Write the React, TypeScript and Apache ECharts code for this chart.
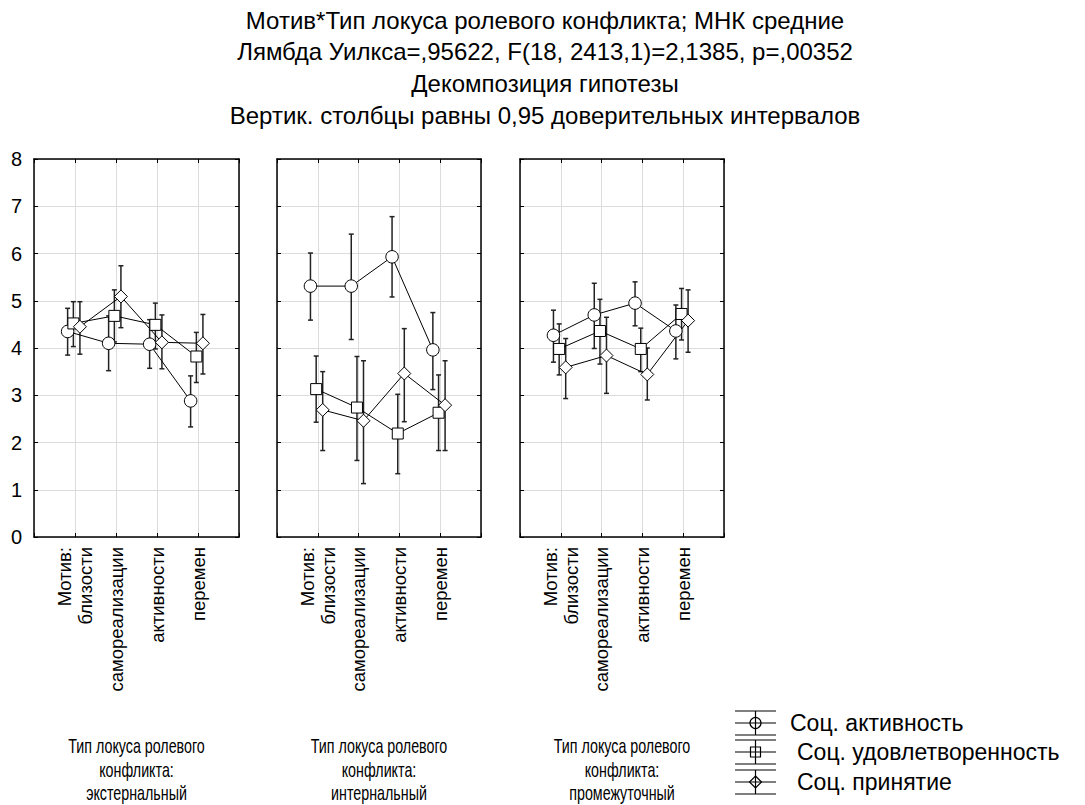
import React, { useEffect, useRef } from "react";
import * as echarts from "echarts";

const titleLines = [
  "Мотив*Тип локуса ролевого конфликта; МНК средние",
  "Лямбда Уилкса=,95622, F(18, 2413,1)=2,1385, p=,00352",
  "Декомпозиция гипотезы",
  "Вертик. столбцы равны 0,95 доверительных интервалов",
];
const categories = ["Мотив:\nблизости", "самореализации", "активности", "перемен"];
const panelNames = [
  ["Тип локуса ролевого", "конфликта:", "экстернальный"],
  ["Тип локуса ролевого", "конфликта:", "интернальный"],
  ["Тип локуса ролевого", "конфликта:", "промежуточный"],
];
const seriesNames = ["Соц. активность", "Соц. удовлетворенность", "Соц. принятие"];
const yTicks = [0, 1, 2, 3, 4, 5, 6, 7, 8];

// means [panel][series][category]
const extActivity = [4.35, 4.1, 4.08, 2.88];
const extSatisfaction = [4.52, 4.68, 4.49, 3.82];
const extAcceptance = [4.45, 5.09, 4.12, 4.1];
const intActivity = [5.31, 5.31, 5.93, 3.96];
const intSatisfaction = [3.13, 2.74, 2.19, 2.63];
const intAcceptance = [2.69, 2.46, 3.46, 2.79];
const midActivity = [4.27, 4.7, 4.95, 4.36];
const midSatisfaction = [3.98, 4.36, 3.98, 4.72];
const midAcceptance = [3.59, 3.84, 3.44, 4.58];

// confidence interval lower / upper
const extActivityLo = [3.85, 3.52, 3.57, 2.33];
const extActivityHi = [4.84, 4.68, 4.6, 3.41];
const extSatisfactionLo = [4.03, 4.13, 3.98, 3.27];
const extSatisfactionHi = [4.98, 5.23, 4.95, 4.33];
const extAcceptanceLo = [3.87, 4.43, 3.56, 3.45];
const extAcceptanceHi = [4.98, 5.74, 4.7, 4.71];
const intActivityLo = [4.59, 4.18, 5.08, 3.12];
const intActivityHi = [6.01, 6.41, 6.78, 4.75];
const intSatisfactionLo = [2.43, 1.62, 1.34, 1.83];
const intSatisfactionHi = [3.83, 3.82, 3.02, 3.43];
const intAcceptanceLo = [1.83, 1.13, 2.44, 1.83];
const intAcceptanceHi = [3.5, 3.73, 4.41, 3.73];
const midActivityLo = [3.7, 3.99, 4.47, 3.77];
const midActivityHi = [4.8, 5.37, 5.4, 4.91];
const midSatisfactionLo = [3.43, 3.66, 3.5, 4.17];
const midSatisfactionHi = [4.51, 5.03, 4.42, 5.26];
const midAcceptanceLo = [2.93, 3.04, 2.9, 3.91];
const midAcceptanceHi = [4.2, 4.65, 4.0, 5.23];

const means = [
  [extActivity, extSatisfaction, extAcceptance],
  [intActivity, intSatisfaction, intAcceptance],
  [midActivity, midSatisfaction, midAcceptance],
];
const lows = [
  [extActivityLo, extSatisfactionLo, extAcceptanceLo],
  [intActivityLo, intSatisfactionLo, intAcceptanceLo],
  [midActivityLo, midSatisfactionLo, midAcceptanceLo],
];
const highs = [
  [extActivityHi, extSatisfactionHi, extAcceptanceHi],
  [intActivityHi, intSatisfactionHi, intAcceptanceHi],
  [midActivityHi, midSatisfactionHi, midAcceptanceHi],
];

const xOffsets = [-0.18, -0.04, 0.12];
const symbols = ["circle", "rect", "diamond"];
const symbolSizes = [12.5, 11, 13];

const FONT = "'Liberation Sans', Arial, sans-serif";

const gridLefts = [34, 277, 520];
const gridWidths = [205, 204, 204];
const gridTop = 159;
const gridHeight = 378;

export default function App() {
  const ref = useRef<HTMLDivElement>(null);
  useEffect(() => {
    if (!ref.current) return;
    const chart = echarts.init(ref.current, null, { renderer: "svg" });

    const grids: any[] = [];
    const xAxes: any[] = [];
    const yAxes: any[] = [];
    const series: any[] = [];
    const graphics: any[] = [];

    for (let p = 0; p < 3; p++) {
      grids.push({ left: gridLefts[p], top: gridTop, width: gridWidths[p], height: gridHeight });
      xAxes.push({
        type: "value",
        gridIndex: p,
        position: "bottom",
        min: 0,
        max: 5,
        interval: 1,
        axisLine: { show: true, onZero: false, lineStyle: { color: "#000", width: 1.5 } },
        axisTick: { show: true, inside: true, length: 4, lineStyle: { color: "#000" } },
        splitLine: { show: true, lineStyle: { color: "#dcdcdc", width: 1 } },
        axisLabel: {
          show: true,
          rotate: 90,
          margin: 10,
          fontSize: 18.5,
          fontFamily: FONT,
          color: "#000",
          lineHeight: 21,
          formatter: (v: number) => (v >= 1 && v <= 4 ? categories[v - 1] : ""),
        },
      });
      xAxes.push({
        type: "value",
        gridIndex: p,
        position: "top",
        min: 0,
        max: 5,
        interval: 1,
        axisLine: { show: true, onZero: false, lineStyle: { color: "#000", width: 1.5 } },
        axisTick: { show: true, inside: true, length: 4, lineStyle: { color: "#000" } },
        splitLine: { show: false },
        axisLabel: { show: false },
      });
      yAxes.push({
        type: "value",
        gridIndex: p,
        position: "left",
        min: 0,
        max: 8,
        interval: 1,
        axisLine: { show: true, onZero: false, lineStyle: { color: "#000", width: 1.5 } },
        axisTick: { show: true, inside: true, length: 4, lineStyle: { color: "#000" } },
        splitLine: { show: true, lineStyle: { color: "#dcdcdc", width: 1 } },
        axisLabel: {
          show: p === 0,
          fontSize: 20,
          fontFamily: FONT,
          color: "#000",
          margin: 12,
          formatter: (v: number) => (yTicks.includes(v) ? String(v) : ""),
        },
      });
      yAxes.push({
        type: "value",
        gridIndex: p,
        position: "right",
        min: 0,
        max: 8,
        interval: 1,
        axisLine: { show: true, onZero: false, lineStyle: { color: "#000", width: 1.5 } },
        axisTick: { show: true, inside: true, length: 4, lineStyle: { color: "#000" } },
        splitLine: { show: false },
        axisLabel: { show: false },
      });

      for (let s = 0; s < 3; s++) {
        const errData = categories.map((_, c) => [c + 1 + xOffsets[s], lows[p][s][c], highs[p][s][c]]);
        series.push({
          type: "custom",
          name: seriesNames[s] + " CI " + p,
          xAxisIndex: p * 2,
          yAxisIndex: p * 2,
          z: 2,
          encode: { x: 0, y: [1, 2] },
          data: errData,
          renderItem: (params: any, api: any) => {
            const x = api.value(0);
            const lo = api.coord([x, api.value(1)]);
            const hi = api.coord([x, api.value(2)]);
            const cap = 2.5;
            const style = { stroke: "#222", lineWidth: 1.5 };
            return {
              type: "group",
              children: [
                { type: "line", shape: { x1: lo[0], y1: lo[1], x2: hi[0], y2: hi[1] }, style },
                { type: "line", shape: { x1: lo[0] - cap, y1: lo[1], x2: lo[0] + cap, y2: lo[1] }, style },
                { type: "line", shape: { x1: hi[0] - cap, y1: hi[1], x2: hi[0] + cap, y2: hi[1] }, style },
              ],
            };
          },
        });
        series.push({
          type: "line",
          name: seriesNames[s],
          xAxisIndex: p * 2,
          yAxisIndex: p * 2,
          z: 3,
          data: categories.map((_, c) => [c + 1 + xOffsets[s], means[p][s][c]]),
          symbol: symbols[s],
          symbolSize: symbolSizes[s],
          showSymbol: true,
          lineStyle: { color: "#000", width: 1 },
          itemStyle: { color: "#fff", borderColor: "#000", borderWidth: 1 },
          emphasis: { disabled: true },
        });
      }

      panelNames[p].forEach((line, li) => {
        graphics.push({
          type: "text",
          x: gridLefts[p] + gridWidths[p] / 2,
          y: 746 + li * 23.5,
          scaleX: 0.68,
          style: {
            text: line,
            fontSize: 21,
            lineHeight: 21,
            fontFamily: FONT,
            fill: "#000",
            align: "center",
            verticalAlign: "middle",
          },
        });
      });
    }

    // title
    titleLines.forEach((t, i) => {
      graphics.push({
        type: "text",
        x: 545,
        y: 20 + i * 31.7,
        style: {
          text: t,
          fontSize: 24,
          fontFamily: FONT,
          fill: "#000",
          align: "center",
          verticalAlign: "middle",
        },
      });
    });

    // legend
    const legendY = [723, 752, 782];
    const legendTextX = [790, 797, 797];
    const lx0 = 735;
    const lx1 = 776;
    const lxc = 755.5;
    seriesNames.forEach((name, i) => {
      const cy = legendY[i];
      const st = { stroke: "#000", lineWidth: 1.2 };
      graphics.push({ type: "line", shape: { x1: lx0, y1: cy - 12, x2: lx1, y2: cy - 12 }, style: st });
      graphics.push({ type: "line", shape: { x1: lx0, y1: cy + 12, x2: lx1, y2: cy + 12 }, style: st });
      graphics.push({ type: "line", shape: { x1: lxc, y1: cy - 12, x2: lxc, y2: cy + 12 }, style: st });
      graphics.push({ type: "line", shape: { x1: lx0, y1: cy, x2: lx1, y2: cy }, style: st });
      if (i === 0) {
        graphics.push({ type: "circle", shape: { cx: lxc, cy, r: 5.5 }, style: { fill: "none", stroke: "#000", lineWidth: 1.2 } });
      } else if (i === 1) {
        graphics.push({ type: "rect", shape: { x: lxc - 5, y: cy - 5, width: 10, height: 10 }, style: { fill: "none", stroke: "#000", lineWidth: 1.2 } });
      } else {
        graphics.push({
          type: "polygon",
          shape: { points: [[lxc, cy - 6], [lxc + 6, cy], [lxc, cy + 6], [lxc - 6, cy]] },
          style: { fill: "none", stroke: "#000", lineWidth: 1.2 },
        });
      }
      graphics.push({
        type: "text",
        x: legendTextX[i],
        y: cy,
        style: { text: name, fontSize: 23, fontFamily: FONT, fill: "#000", align: "left", verticalAlign: "middle" },
      });
    });

    chart.setOption({
      animation: false,
      backgroundColor: "#fff",
      grid: grids,
      xAxis: xAxes,
      yAxis: yAxes,
      series,
      graphic: graphics,
    });
    return () => chart.dispose();
  }, []);

  return (
    <div
      ref={ref}
      style={{ position: "fixed", left: 0, top: 0, width: 1085, height: 805, background: "#fff" }}
    />
  );
}
